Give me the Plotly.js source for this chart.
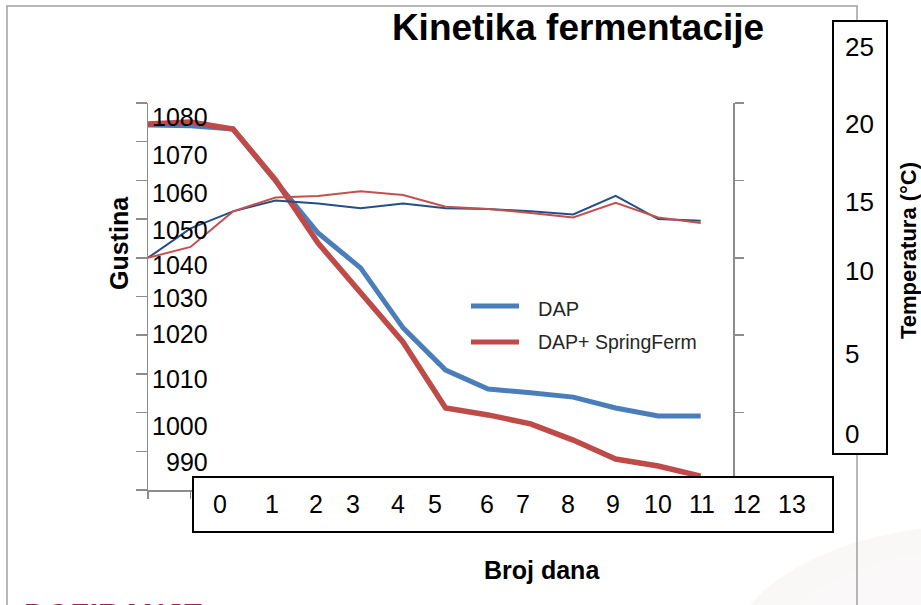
<!DOCTYPE html>
<html>
<head>
<meta charset="utf-8">
<script src="https://cdn.plot.ly/plotly-3.0.1.min.js"></script>
<style>html,body{margin:0;padding:0;background:#fff;}#chart{width:921px;height:605px;}</style>
</head>
<body>
<div id="chart"></div>
<script>
// ---- data ----
const days = [0,1,2,3,4,5,6,7,8,9,10,11,12,13];
const densityDAP = [1074.3,1074.1,1073.3,1060.1,1046.4,1037.4,1021.9,1011.0,1006.1,1005.1,1004.0,1001.2,999.1,999.1];
const densitySF  = [1074.6,1075.1,1073.3,1060.1,1043.8,1030.9,1018.2,1001.2,999.4,997.1,992.9,988.0,986.2,983.6];
const tempDAP = [15.0,16.9,18.0,18.7,18.5,18.2,18.5,18.2,18.15,18.0,17.8,19.0,17.5,17.4];
const tempSF  = [15.0,15.7,18.0,18.9,19.0,19.3,19.05,18.3,18.15,17.9,17.6,18.55,17.6,17.25];
const seriesNames = ['DAP','DAP+ SpringFerm'];
const densityLabels = ['1080','1070','1060','1050','1040','1030','1020','1010','1000','990'];
const tempLabels = ['25','20','15','10','5','0'];
const dayLabels = ['0','1','2','3','4','5','6','7','8','9','10','11','12','13'];
const titleText = 'Kinetika fermentacije';
const yTitle = 'Gustina';
const y2Title = 'Temperatura (°C)';
const xTitle = 'Broj dana';
const footerText = 'DOZIRANJE';

// ---- layout helpers (pixel -> paper) ----
const L=148, R=733, T=103, B=490;
const X = p => (p-L)/(R-L);
const Y = p => (B-p)/(B-T);
const FONT = 'Liberation Sans, Arial, sans-serif';

const cBlue='#4A7EBB', cRed='#BE4B48', cNavy='#244E87', cThinRed='#C4504D';

const traces = [
  {x:days, y:tempDAP, yaxis:'y2', mode:'lines', line:{color:cNavy,width:2}, name:seriesNames[0]+' T', showlegend:false},
  {x:days, y:tempSF, yaxis:'y2', mode:'lines', line:{color:cThinRed,width:2}, name:seriesNames[1]+' T', showlegend:false},
  {x:days, y:densityDAP, mode:'lines', line:{color:cBlue,width:5}, name:seriesNames[0], showlegend:false},
  {x:days, y:densitySF, mode:'lines', line:{color:cRed,width:5.5}, name:seriesNames[1], showlegend:false}
];

const densityY = [117,155,193,230,265,298,334,379,426,462];
const tempY = [47.5,124,202,271,354,434];
const dayX = [220,272,316,353,398,435,487,523,568,613,658,702,747,792];

const ann = [];
densityLabels.forEach((t,i)=>ann.push({xref:'paper',yref:'paper',x:X(210),y:Y(densityY[i]),xanchor:'right',yanchor:'middle',text:t,showarrow:false,font:{family:FONT,size:25,color:'#000'}}));
tempLabels.forEach((t,i)=>ann.push({xref:'paper',yref:'paper',x:X(843),y:Y(tempY[i]),xanchor:'left',yanchor:'middle',text:t,showarrow:false,font:{family:FONT,size:26,color:'#000'}}));
dayLabels.forEach((t,i)=>ann.push({xref:'paper',yref:'paper',x:X(dayX[i]),y:Y(504),xanchor:'center',yanchor:'middle',text:t,showarrow:false,font:{family:FONT,size:25,color:'#000'}}));
ann.push({xref:'paper',yref:'paper',x:X(119),y:Y(243),xanchor:'center',yanchor:'middle',textangle:-90,text:'<b>'+yTitle+'</b>',showarrow:false,font:{family:FONT,size:25,color:'#000'}});
ann.push({xref:'paper',yref:'paper',x:X(908),y:Y(251),xanchor:'center',yanchor:'middle',textangle:-90,text:'<b>'+y2Title+'</b>',showarrow:false,font:{family:FONT,size:22,color:'#000'}});
ann.push({xref:'paper',yref:'paper',x:X(542),y:Y(570),xanchor:'center',yanchor:'middle',text:'<b>'+xTitle+'</b>',showarrow:false,font:{family:FONT,size:25,color:'#000'}});
// legend texts
ann.push({xref:'paper',yref:'paper',x:X(536),y:Y(309),xanchor:'left',yanchor:'middle',text:seriesNames[0],showarrow:false,font:{family:FONT,size:20,color:'#262626'}});
ann.push({xref:'paper',yref:'paper',x:X(536),y:Y(342),xanchor:'left',yanchor:'middle',text:seriesNames[1],showarrow:false,font:{family:FONT,size:19.5,color:'#262626'}});
// footer (cut off at the bottom edge, as in the source)
ann.push({xref:'paper',yref:'paper',x:X(22),y:Y(615),xanchor:'left',yanchor:'middle',text:'<b>'+footerText+'</b>',showarrow:false,font:{family:FONT,size:31,color:'#A3195B'}});

const shapes = [
  // faint background swoosh
  {type:'path',xref:'paper',yref:'paper',layer:'below',path:`M ${X(745)} ${Y(610)} Q ${X(800)} ${Y(545)} ${X(925)} ${Y(528)} L ${X(925)} ${Y(610)} Z`,fillcolor:'rgba(243,237,237,0.45)',line:{width:0}},
  {type:'path',xref:'paper',yref:'paper',layer:'below',path:`M ${X(790)} ${Y(610)} Q ${X(840)} ${Y(565)} ${X(925)} ${Y(552)} L ${X(925)} ${Y(610)} Z`,fillcolor:'rgba(250,247,247,0.8)',line:{width:0}},
  // outer chart border
  {type:'rect',xref:'paper',yref:'paper',layer:'below',x0:X(7),x1:X(857),y0:Y(6),y1:Y(640),line:{color:'#a0a0a0',width:1.5},fillcolor:'rgba(0,0,0,0)'},
  // right label box
  {type:'rect',xref:'paper',yref:'paper',layer:'above',x0:X(833),x1:X(887),y0:Y(21),y1:Y(454),line:{color:'#000',width:2},fillcolor:'#fff'},
  // bottom label box
  {type:'rect',xref:'paper',yref:'paper',layer:'above',x0:X(193),x1:X(833),y0:Y(477),y1:Y(532),line:{color:'#000',width:2},fillcolor:'#fff'},
  // legend samples
  {type:'line',xref:'paper',yref:'paper',layer:'above',x0:X(471),x1:X(519),y0:Y(306),y1:Y(306),line:{color:cBlue,width:5}},
  {type:'line',xref:'paper',yref:'paper',layer:'above',x0:X(471),x1:X(519),y0:Y(342),y1:Y(342),line:{color:cRed,width:5}}
];

const axisCommon = {showgrid:false, zeroline:false, showticklabels:false, showline:true, linecolor:'#8c8c8c', linewidth:1.5, ticks:'outside', tickcolor:'#8c8c8c', tickwidth:1.5};

const layout = {
  width:921, height:605,
  margin:{l:L, r:921-R, t:T, b:605-B, pad:0},
  paper_bgcolor:'#fff', plot_bgcolor:'rgba(0,0,0,0)',
  showlegend:false,
  title:{text:'<b>'+titleText+'</b>', font:{family:FONT,size:37,color:'#000'}, xref:'container', yref:'container', x:578/921, xanchor:'center', y:1-27/605, yanchor:'middle'},
  xaxis:Object.assign({}, axisCommon, {range:[0,13.76], dtick:1, tick0:0, ticklen:7}),
  yaxis:Object.assign({}, axisCommon, {range:[980,1080], dtick:10, tick0:980, ticklen:11}),
  yaxis2:Object.assign({}, axisCommon, {range:[0,25], dtick:5, tick0:0, ticklen:9, overlaying:'y', side:'right'}),
  annotations:ann,
  shapes:shapes
};

Plotly.newPlot('chart', traces, layout, {displayModeBar:false, staticPlot:true});
</script>
</body>
</html>
